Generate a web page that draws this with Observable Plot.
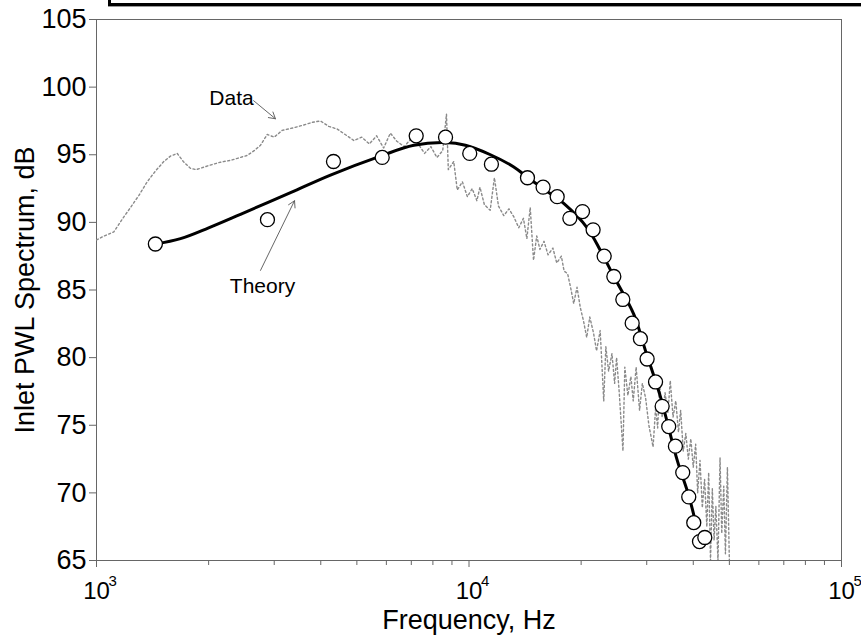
<!DOCTYPE html>
<html>
<head>
<meta charset="utf-8">
<script src="https://cdn.jsdelivr.net/npm/d3@7"></script>
<script src="https://cdn.jsdelivr.net/npm/@observablehq/plot@0.6"></script>
<style>
  html, body { margin: 0; padding: 0; background: #fff; }
  #wrap { position: relative; width: 861px; height: 636px; overflow: hidden; }
  #topbox { position: absolute; left: 108px; top: -30px; width: 780px; height: 30px;
            border: 3px solid #000; box-shadow: 0 1px 0 #999; }
  #chart { position: absolute; left: 0; top: 0; }
</style>
</head>
<body>
<div id="wrap"><div id="chart"></div><div id="topbox"></div></div>
<script>
// Theory curve (Hz, dB)
const theoryFreq = [1439, 1681, 2000, 2435, 3318, 4247, 5785, 7110, 8650, 9780, 11420, 13190, 14400, 16000, 17960, 20760, 22550, 24480, 27700, 29780, 32660, 36230, 38900, 40500];
const theoryLevel = [88.4, 88.8, 89.6, 90.6, 92.2, 93.5, 94.9, 95.7, 95.9, 95.7, 95.0, 94.1, 93.3, 92.4, 91.4, 89.6, 87.9, 86.0, 83.2, 80.5, 77.1, 72.4, 69.8, 67.9];

// Open circles (Hz, dB)
const circleFreq = [1439, 2877, 4327, 5848, 7215, 8650, 10046, 11486, 14355, 15810, 17248, 18653, 20170, 21536, 23060, 24480, 25880, 27420, 28850, 30070, 31680, 33000, 34370, 35820, 37480, 38900, 40120, 41570, 42960];
const circleLevel = [88.4, 90.2, 94.5, 94.8, 96.4, 96.3, 95.1, 94.3, 93.3, 92.6, 91.9, 90.3, 90.8, 89.45, 87.5, 86.0, 84.3, 82.55, 81.4, 79.9, 78.2, 76.4, 74.9, 73.45, 71.5, 69.7, 67.8, 66.4, 66.7];

// Measured data (Hz, dB)
const dataFreq = [1000, 1050, 1113, 1170, 1234, 1300, 1368, 1440, 1516, 1580, 1647, 1710, 1787, 1850, 1901, 2000, 2152, 2300, 2538, 2650, 2755, 2873, 3000, 3150, 3388, 3600, 3800, 3993, 4200, 4428, 4650, 4910, 5150, 5400, 5650, 5900, 6150, 6400, 6700, 7000, 7300, 7600, 7900, 8200, 8500, 8700, 8800, 9100, 9300, 9600, 9900, 10200, 10500, 10700, 11000, 11400, 11700, 12000, 12400, 12800, 13200, 13600, 14000, 14300, 14600, 14900, 15200, 15500, 15900, 16300, 16800, 17200, 17700, 18000, 18400, 18800, 19100, 19500, 19900, 20300, 20700, 21100, 21600, 22000, 22500, 23000, 23300, 23700, 24200, 24600, 24900, 25300, 25900, 26200, 26700, 27200, 27600, 28100, 28700, 29200, 29800, 30400, 31200, 31700, 32100, 32500, 33000, 33600, 34200, 34700, 35300, 35900, 36500, 37000, 37600, 38200, 38800, 39400, 40000, 40600, 41100, 41700, 42300, 42900, 43500, 44000, 44500, 45000, 45500, 46000, 46600, 47200, 47700, 48300, 48800, 49400, 50000];
const dataLevel = [88.7, 89.0, 89.3, 90.2, 91.1, 92.0, 93.0, 93.8, 94.5, 94.9, 95.1, 94.5, 94.0, 93.9, 94.0, 94.2, 94.45, 94.6, 94.95, 95.3, 95.7, 96.5, 96.3, 96.8, 97.0, 97.2, 97.4, 97.5, 97.1, 96.9, 96.5, 96.05, 96.3, 95.8, 96.4, 95.5, 96.6, 96.0, 95.6, 96.2, 95.8, 95.1, 95.6, 94.8, 95.3, 98.0, 93.9, 94.5, 92.4, 93.0, 91.9, 92.5, 91.6, 92.6, 91.3, 90.9, 93.3, 91.2, 90.5, 91.0, 90.4, 89.6, 90.3, 88.8, 91.1, 87.2, 89.0, 88.0, 88.6, 87.6, 88.1, 87.0, 87.5, 86.4, 86.2, 85.0, 84.0, 85.2, 83.7, 82.7, 81.5, 83.0, 81.8, 80.5, 82.0, 76.8, 80.8, 79.0, 80.3, 78.1, 80.0, 77.5, 73.1, 79.3, 77.2, 78.6, 76.8, 79.3, 76.1, 78.1, 77.0, 75.0, 73.4, 76.3, 74.8, 78.1, 75.6, 77.4, 75.9, 78.3, 75.6, 76.8, 74.5, 76.1, 73.1, 74.4, 72.5, 74.0, 71.9, 73.6, 70.0, 72.4, 68.9, 71.0, 67.5, 71.5, 65.0, 70.3, 66.5, 69.0, 65.0, 72.6, 67.0, 70.5, 65.5, 71.9, 65.0];

// Axis ticks
const xMajorTicks = [1e3, 1e4, 1e5];
const xExponents = ["3", "4", "5"];
const xMinorTicks = [2e3, 3e3, 4e3, 5e3, 6e3, 7e3, 8e3, 9e3, 2e4, 3e4, 4e4, 5e4, 6e4, 7e4, 8e4, 9e4];
const yTicks = [65, 70, 75, 80, 85, 90, 95, 100, 105];

// Annotations (data units)
const labels = [
  {text: "Data", x: 2304, y: 99.2, x1: 2640, y1: 99.0, x2: 3023, y2: 97.66},
  {text: "Theory", x: 2790, y: 85.3, x1: 2756, y1: 86.45, x2: 3401, y2: 91.6}
];

const theory = theoryFreq.map((f, i) => ({f, v: theoryLevel[i]}));
const circles = circleFreq.map((f, i) => ({f, v: circleLevel[i]}));
const data = dataFreq.map((f, i) => ({f, v: dataLevel[i]}));

const chart = Plot.plot({
  width: 861,
  height: 636,
  marginLeft: 96,
  marginRight: 20,
  marginTop: 19,
  marginBottom: 76,
  style: {fontFamily: "'Liberation Sans', Arial, Helvetica, sans-serif", background: "#fff", color: "#000", overflow: "visible"},
  x: {type: "log", domain: [1e3, 1e5]},
  y: {domain: [65, 105]},
  marks: [
    Plot.axisY({ticks: yTicks, tickSize: 7, tickPadding: 3, fontSize: 27, stroke: "#666", fill: "#000", label: null}),
    Plot.axisX({ticks: xMinorTicks, tickSize: 5, tickFormat: () => "", stroke: "#666", label: null}),
    Plot.axisX({ticks: xMajorTicks, tickSize: 7, tickFormat: () => "", stroke: "#666", label: null}),
    Plot.text(xMajorTicks, {x: d => d, frameAnchor: "bottom", dy: 31, text: () => "10", fontSize: 24, lineAnchor: "middle", textAnchor: "middle", fill: "#000"}),
    Plot.text(xMajorTicks, {x: d => d, frameAnchor: "bottom", dy: 21, dx: 12, text: (d, i) => xExponents[i], fontSize: 15, lineAnchor: "middle", textAnchor: "start", fill: "#000"}),
    Plot.text(["Frequency, Hz"], {frameAnchor: "bottom", dy: 60, text: d => d, fontSize: 27, lineAnchor: "middle", textAnchor: "middle", fill: "#000"}),
    Plot.text(["Inlet PWL Spectrum, dB"], {frameAnchor: "left", dx: -71, rotate: -90, text: d => d, fontSize: 27, lineAnchor: "middle", textAnchor: "middle", fill: "#000"}),
    Plot.frame({stroke: "#666", strokeWidth: 1}),
    Plot.line(data, {x: "f", y: "v", stroke: "#8a8a8a", strokeWidth: 1.4, strokeDasharray: "2,2.5", clip: true}),
    Plot.line(theory, {x: "f", y: "v", stroke: "#000", strokeWidth: 3, curve: "catmull-rom"}),
    Plot.dot(circles, {x: "f", y: "v", r: 7, fill: "#fff", stroke: "#000", strokeWidth: 1.3}),
    Plot.arrow(labels, {x1: "x1", y1: "y1", x2: "x2", y2: "y2", stroke: "#555", strokeWidth: 0.9, headLength: 12, bend: 0}),
    Plot.text(labels, {x: "x", y: "y", text: "text", fontSize: 21, fill: "#000"})
  ]
});
document.getElementById("chart").appendChild(chart);
</script>
</body>
</html>
